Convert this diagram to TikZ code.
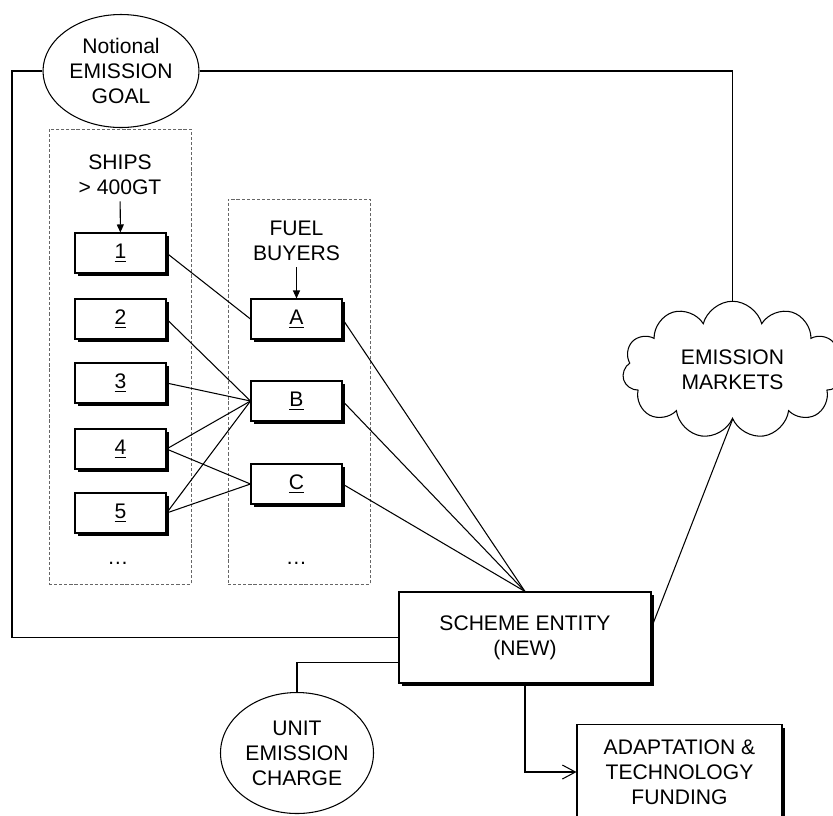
\documentclass[tikz,border=0pt]{standalone}
\usepackage{fontspec}
\setmainfont{Liberation Sans}
\usepackage{tikz}
\usetikzlibrary{shapes.geometric, shapes.symbols, arrows.meta, positioning, shadows}
\tikzstyle{party}  = [rectangle, draw, fill=white, text centered,
                      minimum height=0.8cm, minimum width=1.82cm,
                      drop shadow={shadow xshift=0.06cm, shadow yshift=-0.06cm, fill=black, opacity=1}]
\tikzstyle{entity} = [rectangle, draw, fill=white, align=center,
                      drop shadow={shadow xshift=0.06cm, shadow yshift=-0.06cm, fill=black, opacity=1}]
\tikzstyle{target} = [ellipse, draw, fill=white, align=center, inner sep=0pt]
\tikzstyle{group}  = [rectangle, draw=black!60, line width=0.5pt,
                      dash pattern=on 1.8pt off 1.1pt]
\tikzstyle{arrow}  = [-{Triangle[length=1.6mm, width=1.4mm]}]
\tikzstyle{barb}   = [-{Straight Barb[length=2.6mm, width=2.8mm]}]

\begin{document}
\begin{tikzpicture}[line width=0.6pt, every node/.style={font=\fontsize{12}{14.2}\selectfont}]
  \useasboundingbox (0,0) rectangle (16.66,-16.3);
  \clip (0,0) rectangle (16.66,-16.3);

  \node[group, minimum width=2.84cm, minimum height=9.1cm] (shipgrp) at (2.40,-7.13) {};
  \node[group, minimum width=2.84cm, minimum height=7.7cm] (buyergrp) at (5.98,-7.83) {};

  \node[target, minimum width=3.12cm, minimum height=2.26cm] (goal) at (2.42,-1.42) {Notional\\EMISSION\\GOAL};
  \node[cloud, cloud puffs=11, cloud ignores aspect, draw, fill=white, align=center,
        minimum width=4.4cm, minimum height=2.75cm] (market) at (14.65,-7.4) {EMISSION\\MARKETS};

  \node[align=center] (shiplbl) at (2.40,-3.5) {SHIPS\\> 400GT};
  \node[party] (s1) at (2.41,-5.06) {\underline{1}};
  \node[party] (s2) at (2.41,-6.38) {\underline{2}};
  \node[party] (s3) at (2.41,-7.66) {\underline{3}};
  \node[party] (s4) at (2.41,-8.98) {\underline{4}};
  \node[party] (s5) at (2.41,-10.26) {\underline{5}};
  \node (shipdots) at (2.36,-11.26) {\dots};

  \node[align=center] (buyerlbl) at (5.93,-4.82) {FUEL\\BUYERS};
  \node[party] (fa) at (5.93,-6.38) {\underline{A}};
  \node[party] (fb) at (5.93,-8.02) {\underline{B}};
  \node[party] (fc) at (5.93,-9.68) {\underline{C}};
  \node (buyerdots) at (5.93,-11.26) {\dots};

  \node[entity, minimum width=5.04cm, minimum height=1.82cm] (scheme) at (10.5,-12.75) {SCHEME ENTITY\\(NEW)};
  \node[entity, minimum width=4.1cm, minimum height=1.9cm] (fund) at (13.59,-15.44) {ADAPTATION \&\\TECHNOLOGY\\FUNDING};
  \node[target, minimum width=3.06cm, minimum height=2.42cm] (charge) at (5.94,-15.06) {UNIT\\EMISSION\\CHARGE};

  \coordinate (frameL) at (0.24,-1.42);
  \draw (goal.west) -- (frameL) |- (scheme.west);
  \draw (goal.east) -| (market.north);
  \draw (market.south) -- ([yshift=0.2cm]scheme.east);
  \draw (charge.north) |- ([yshift=-0.5cm]scheme.west);
  \draw[barb] (scheme.south) |- (fund.west);

  \draw[arrow] (shiplbl) -- (s1);
  \draw[arrow] (buyerlbl) -- (fa);

  \draw (s1.east) -- (fa.west);
  \draw (s2.east) -- (fb.west);
  \draw (s3.east) -- (fb.west);
  \draw (s4.east) -- (fb.west);
  \draw (s4.east) -- (fc.west);
  \draw (s5.east) -- (fb.west);
  \draw (s5.east) -- (fc.west);

  \draw (fa.east) -- (scheme.north);
  \draw (fb.east) -- (scheme.north);
  \draw (fc.east) -- (scheme.north);
\end{tikzpicture}
\end{document}
